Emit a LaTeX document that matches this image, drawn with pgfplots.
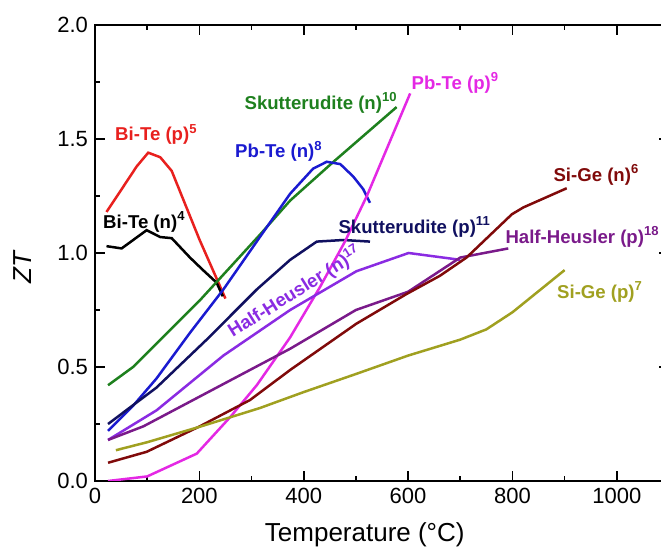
\documentclass[border=0pt]{standalone}
\usepackage{fontspec}
\setmainfont{Liberation Sans}
\usepackage{pgfplots}
\pgfplotsset{compat=1.18}
\definecolor{cBTp}{RGB}{232,32,30}
\definecolor{cBTn}{RGB}{0,0,0}
\definecolor{cSKn}{RGB}{30,128,30}
\definecolor{cPTn}{RGB}{26,26,208}
\definecolor{cSKp}{RGB}{16,16,96}
\definecolor{cPTp}{RGB}{228,40,228}
\definecolor{cHHn}{RGB}{138,43,226}
\definecolor{cHHp}{RGB}{122,26,138}
\definecolor{cSGn}{RGB}{128,10,10}
\definecolor{cSGp}{RGB}{160,160,32}
\begin{document}
\begin{tikzpicture}
\begin{axis}[name=ax, at={(0,0)}, anchor=south west,
  scale only axis, width=287pt, height=228pt,
  xmin=0, xmax=1100, ymin=0, ymax=2,
  xtick={0,200,400,600,800,1000}, minor xtick={100,300,500,700,900,1100},
  ytick={0,0.5,1,1.5,2}, minor ytick={0.25,0.75,1.25,1.75},
  tick align=inside, major tick length=5pt, minor tick length=2.5pt,
  axis line style={line width=1pt},
  every tick/.style={line width=0.8pt, black},
  /pgf/number format/assume math mode=true,
  /pgf/number format/1000 sep={},
  yticklabel style={/pgf/number format/fixed, /pgf/number format/fixed zerofill, /pgf/number format/precision=1},
  ticklabel style={font=\fontsize{11}{13}\selectfont},
  xlabel={Temperature (°C)},
  xlabel style={at={(axis description cs:0.47,-0.118)}, anchor=center, font=\fontsize{13}{15}\selectfont},
  ylabel={\textit{ZT}},
  ylabel style={at={(axis description cs:-0.127,0.47)}, anchor=center, font=\fontsize{13}{15}\selectfont},
  every axis plot/.append style={line width=1.25pt, mark=none},
  clip=true,
]
% Bi-Te (p)
\addplot[cBTp] coordinates {(22,1.18) (54,1.29) (80,1.38) (102,1.44) (125,1.42) (147,1.36) (200,1.06) (250,0.80)};
% Bi-Te (n)
\addplot[cBTn] coordinates {(22,1.03) (51,1.02) (99,1.10) (125,1.07) (147,1.065) (182,0.98) (207,0.925) (233,0.87) (245,0.81)};
% Skutterudite (n)
\addplot[cSKn] coordinates {(25,0.42) (73,0.50) (200,0.79) (316,1.08) (374,1.23) (457,1.40) (578,1.64)};
% Pb-Te (n)
\addplot[cPTn] coordinates {(25,0.22) (73,0.33) (118,0.45) (182,0.65) (246,0.84) (316,1.07) (374,1.26) (418,1.37) (444,1.40) (470,1.39) (495,1.335) (514,1.28) (527,1.22)};
% Skutterudite (p)
\addplot[cSKp] coordinates {(25,0.25) (118,0.41) (214,0.62) (310,0.84) (374,0.97) (425,1.05) (476,1.057) (527,1.05)};
% Pb-Te (p)
\addplot[cPTp] coordinates {(25,0.0) (100,0.02) (195,0.12) (259,0.28) (310,0.42) (374,0.63) (431,0.85) (479,1.05) (521,1.25) (604,1.70)};
% Half-Heusler (n)
\addplot[cHHn] coordinates {(25,0.18) (118,0.31) (246,0.55) (374,0.75) (501,0.92) (601,1.00) (700,0.97)};
% Half-Heusler (p)
\addplot[cHHp] coordinates {(25,0.18) (93,0.24) (316,0.51) (374,0.58) (500,0.75) (600,0.83) (700,0.98) (792,1.02)};
% Si-Ge (n)
\addplot[cSGn] coordinates {(25,0.08) (99,0.128) (201,0.24) (297,0.355) (374,0.487) (501,0.69) (597,0.82) (661,0.90) (712,0.98) (799,1.17) (821,1.20) (904,1.284)};
% Si-Ge (p)
\addplot[cSGp] coordinates {(40,0.135) (100,0.17) (201,0.238) (316,0.32) (400,0.39) (501,0.47) (600,0.55) (700,0.62) (750,0.665) (800,0.74) (900,0.925)};

\begin{scope}[every node/.style={inner sep=0pt, font=\bfseries\fontsize{9.3}{11}\selectfont}]
\node[anchor=west, text=cBTp] at (axis cs:38,1.52) {Bi-Te (p)\textsuperscript{5}};
\node[anchor=west, text=cBTn] at (axis cs:15,1.136) {Bi-Te (n)\textsuperscript{4}};
\node[anchor=west, text=cPTn] at (axis cs:268,1.445) {Pb-Te (n)\textsuperscript{8}};
\node[anchor=west, text=cSKn] at (axis cs:286,1.657) {Skutterudite (n)\textsuperscript{10}};
\node[anchor=west, text=cPTp] at (axis cs:606,1.745) {Pb-Te (p)\textsuperscript{9}};
\node[anchor=west, text=cSGn] at (axis cs:878,1.342) {Si-Ge (n)\textsuperscript{6}};
\node[anchor=west, text=cSKp] at (axis cs:466,1.115) {Skutterudite (p)\textsuperscript{11}};
\node[anchor=west, text=cHHp] at (axis cs:786,1.07) {Half-Heusler (p)\textsuperscript{18}};
\node[anchor=west, text=cSGp] at (axis cs:885,0.83) {Si-Ge (p)\textsuperscript{7}};
\node[rotate=32, text=cHHn] at (axis cs:383,0.83) {Half-Heusler (n)\textsuperscript{17}};
\end{scope}
\end{axis}
\pgfresetboundingbox
\useasboundingbox ([shift={(-47.5pt,-35pt)}]ax.south west) rectangle ([shift={(283pt,240.5pt)}]ax.south west);
\end{tikzpicture}
\end{document}
